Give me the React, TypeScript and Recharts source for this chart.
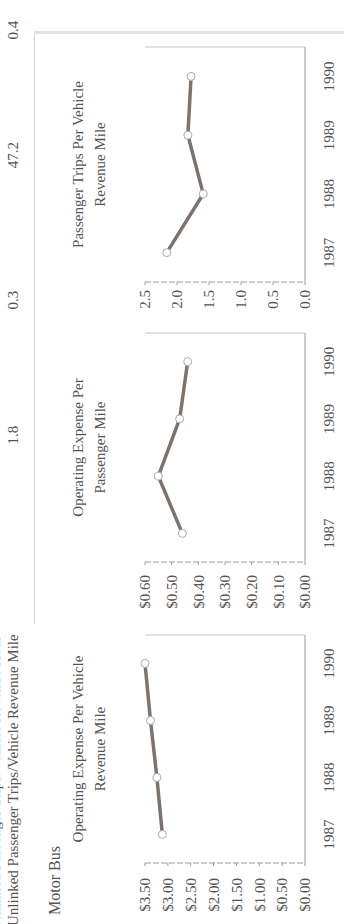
import { LineChart, Line, XAxis, YAxis } from 'recharts';

// Motor Bus trend panels (page is scanned sideways, so the whole sheet is rotated)
const years = ['1987', '1988', '1989', '1990'];

const expensePerVehicleMile = [3.12, 3.24, 3.38, 3.5];
const expensePerPassengerMile = [0.46, 0.55, 0.47, 0.44];
const tripsPerVehicleMile = [2.16, 1.59, 1.83, 1.78];

const vehicleMileTicks = [0, 0.5, 1, 1.5, 2, 2.5, 3, 3.5];
const passengerMileTicks = [0, 0.1, 0.2, 0.3, 0.4, 0.5, 0.6];
const tripTicks = [0, 0.5, 1, 1.5, 2, 2.5];

const headerValues = ['1.8', '0.3', '47.2', '0.4'];

const FONT = '"Liberation Serif", "DejaVu Serif", serif';
const TEXT = '#555';
const AXIS = '#9a9a9a';
const LINE = '#7d726c';

const money = (v: number) => `$${v.toFixed(2)}`;
const oneDecimal = (v: number) => v.toFixed(1);

interface PanelProps {
  title: string[];
  values: number[];
  ticks: number[];
  format: (v: number) => string;
  left: number;
  plotWidth: number;
  labelGap: number;
}

function Panel({ title, values, ticks, format, left, plotWidth, labelGap }: PanelProps) {
  const data = years.map((year, i) => ({ year, value: values[i] }));
  const pad = plotWidth / 8;
  const max = ticks[ticks.length - 1];

  return (
    <>
      <div
        style={{
          position: 'absolute', left, top: 67, width: plotWidth, textAlign: 'center',
          fontFamily: FONT, fontSize: 15, lineHeight: '22px', color: TEXT,
        }}
      >
        {title.map(t => <div key={t}>{t}</div>)}
      </div>
      <div style={{ position: 'absolute', left: left - 60, top: 130 }}>
        <LineChart width={plotWidth + 61} height={205} data={data} margin={{ top: 15, right: 0, bottom: 0, left: 0 }}>
          <XAxis
            xAxisId="marks" type="number" domain={[0, 4]} ticks={[1, 2, 3]}
            height={0} axisLine={false} tick={false} tickSize={4}
            tickLine={{ stroke: AXIS }}
          />
          <XAxis
            dataKey="year" height={30} padding={{ left: pad, right: pad }}
            tickLine={false} axisLine={{ stroke: AXIS }}
            tick={{ fill: TEXT, fontSize: 15, fontFamily: FONT }} tickMargin={12}
          />
          <XAxis xAxisId="top" dataKey="year" orientation="top" height={0} tick={false} tickLine={false}
            axisLine={{ stroke: '#c4c4c4' }} />
          <YAxis
            width={60} domain={[0, max]} ticks={ticks} tickFormatter={format}
            tickSize={3} tickMargin={labelGap - 3}
            axisLine={{ stroke: AXIS, strokeDasharray: '6 2' }} tickLine={{ stroke: AXIS }}
            tick={{ fill: TEXT, fontSize: 15, fontFamily: FONT }}
          />
          <YAxis yAxisId="right" orientation="right" width={1} tick={false} tickLine={false}
            axisLine={{ stroke: '#c4c4c4' }} />
          <Line
            type="linear" dataKey="value" stroke={LINE} strokeWidth={3.5}
            dot={{ r: 4, fill: '#fff', stroke: '#aaa', strokeWidth: 1 }}
            isAnimationActive={false}
          />
        </LineChart>
      </div>
    </>
  );
}

export default function App() {
  return (
    <div style={{ position: 'fixed', top: 0, left: 0, width: 344, height: 924, overflow: 'hidden', background: '#fff' }}>
      <div
        style={{
          position: 'absolute', left: 0, top: 0, width: 924, height: 344,
          transformOrigin: '0 0', transform: 'translateY(924px) rotate(-90deg)',
          fontFamily: FONT, color: TEXT,
        }}
      >
        <div style={{ position: 'absolute', left: -6, top: -14, fontSize: 15, lineHeight: '18px', whiteSpace: 'nowrap' }}>
          Unlinked Passenger Trips/Vehicle Revenue Hour
        </div>
        <div style={{ position: 'absolute', left: -2, top: 4, fontSize: 15, lineHeight: '18px', whiteSpace: 'nowrap' }}>
          Unlinked Passenger Trips/Vehicle Revenue Mile
        </div>
        {headerValues.map((v, i) => (
          <div
            key={i}
            style={{
              position: 'absolute', left: [469, 604, 749, 874][i], top: 4, width: 40,
              textAlign: 'center', fontSize: 15, lineHeight: '18px',
            }}
          >
            {v}
          </div>
        ))}
        <div style={{ position: 'absolute', left: 300, top: 34, width: 591, borderTop: '1px solid #d0d0d0' }} />
        <div style={{ position: 'absolute', left: 890, top: 34, height: 310, borderLeft: '3px solid #e2e2e2' }} />
        <div style={{ position: 'absolute', left: 9, top: 45, fontSize: 16, lineHeight: '20px', whiteSpace: 'nowrap' }}>
          Motor Bus
        </div>

        <Panel
          title={['Operating Expense Per Vehicle', 'Revenue Mile']}
          values={expensePerVehicleMile} ticks={vehicleMileTicks} format={money}
          left={61} plotWidth={228} labelGap={15}
        />
        <Panel
          title={['Operating Expense Per', 'Passenger Mile']}
          values={expensePerPassengerMile} ticks={passengerMileTicks} format={money}
          left={362} plotWidth={229} labelGap={13}
        />
        <Panel
          title={['Passenger Trips Per Vehicle', 'Revenue Mile']}
          values={tripsPerVehicleMile} ticks={tripTicks} format={oneDecimal}
          left={642} plotWidth={235} labelGap={8}
        />
      </div>
    </div>
  );
}
